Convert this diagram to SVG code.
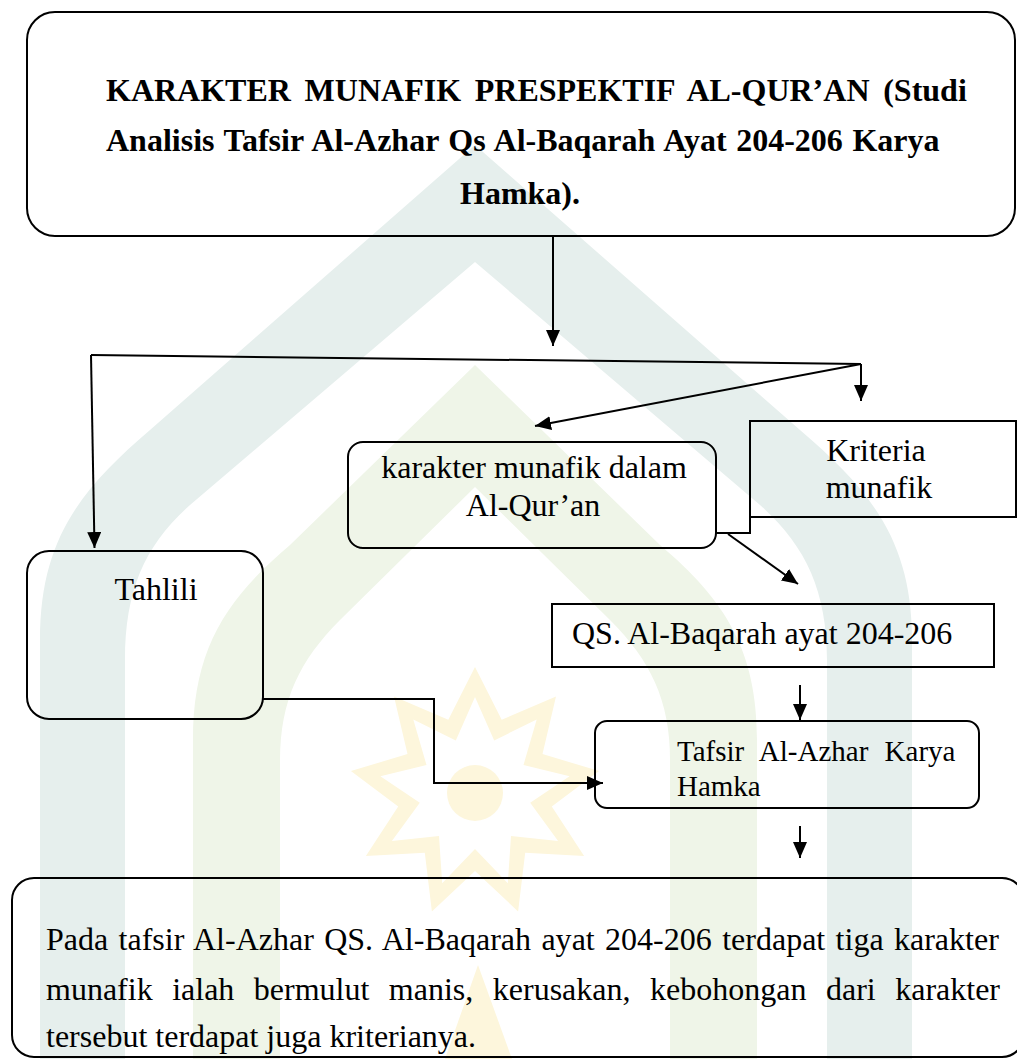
<svg xmlns="http://www.w3.org/2000/svg" width="1017" height="1059" viewBox="0 0 1017 1059">
  <defs>
    <marker id="ah" markerUnits="userSpaceOnUse" markerWidth="16" markerHeight="14" refX="16" refY="7" orient="auto">
      <path d="M0,0 L16,7 L0,14 Z" fill="#000"/>
    </marker>
    <style>
      .box { fill: none; stroke: #000; stroke-width: 2; }
      .con { fill: none; stroke: #000; stroke-width: 2; }
      .arr { marker-end: url(#ah); }
      .t { font-family: "Liberation Serif", "Times New Roman", serif; fill: #000; }
      .title { font-size: 32px; font-weight: bold; }
      .body { font-size: 32px; }
      .small { font-size: 29px; }
    </style>
  </defs>
  <rect x="0" y="0" width="1017" height="1059" fill="#fff"/>
  <g id="watermark">
    <path fill="#e6efed" d="M40 1059 L40 640 C40 540 80 490 150 430 L475 145 L800 430 C870 490 912 540 912 640 L912 1059 L827 1059 L827 660 C827 590 805 545 760 505 L475 262 L190 505 C145 545 125 590 125 660 L125 1059 Z"/>
    <path fill="#eff5e8" d="M193 1059 L193 740 C193 650 225 600 290 545 L475 365 L660 545 C725 600 757 650 757 740 L757 1059 L670 1059 L670 760 C670 700 650 660 610 620 L475 487 L340 620 C300 660 280 700 280 760 L280 1059 Z"/>
    <polygon fill="#fdf6dc" points="475,667 501.7,719.7 556,696.5 542.5,754 599.1,771.1 551.8,806.6 584.1,856 525.2,852.7 518.1,911.4 475,871 431.9,911.4 424.8,852.7 365.9,856 398.2,806.6 350.9,771.1 407.5,754 394,696.5 448.3,719.7"/>
    <polygon fill="#fff" points="475,697 494.2,740.4 536.7,719.5 523.5,765 569.6,776.3 530.2,802.7 558.1,841 511,835.9 507.8,883.2 475,849 442.2,883.2 439,835.9 391.9,841 419.8,802.7 380.4,776.3 426.5,765 413.3,719.5 455.8,740.4"/>
    <circle cx="475" cy="793" r="28" fill="#fdf6dc"/>
    <polygon fill="#fdf6dc" points="478,965 445,1059 512,1059"/>
  </g>
  <g id="connectors">
    <path class="con arr" d="M553 236 L553 346"/>
    <path class="con" d="M91 355 L861 364"/>
    <path class="con arr" d="M91 355 L94.5 548"/>
    <path class="con arr" d="M861 364 L861 401"/>
    <path class="con arr" d="M861 364 L535 426"/>
    <path class="con" d="M782 517 L750 517 L750 533 L716 533"/>
    <path class="con arr" d="M728 534 L798 584"/>
    <path class="con arr" d="M800 685 L800 720"/>
    <path class="con arr" d="M263 699 L434 699 L434 783 L603 783"/>
    <path class="con arr" d="M800 826 L800 858"/>
  </g>
  <g id="node-title">
    <rect class="box" x="27" y="12" width="988" height="224" rx="28"/>
    <text class="t title" x="106" y="101" word-spacing="5.7">KARAKTER MUNAFIK PRESPEKTIF AL-QUR’AN (Studi</text>
    <text class="t title" x="106" y="151" word-spacing="1.6">Analisis Tafsir Al-Azhar Qs Al-Baqarah Ayat 204-206 Karya</text>
    <text class="t title" x="460" y="204">Hamka).</text>
  </g>
  <g id="node-karakter">
    <rect class="box" x="348" y="442" width="368" height="106" rx="15"/>
    <text class="t body" x="534" y="478" text-anchor="middle">karakter munafik dalam</text>
    <text class="t body" x="533" y="516" text-anchor="middle">Al-Qur’an</text>
  </g>
  <g id="node-kriteria">
    <rect class="box" x="750" y="421" width="266" height="96"/>
    <text class="t body" x="876" y="461" text-anchor="middle">Kriteria</text>
    <text class="t body" x="879" y="498" text-anchor="middle">munafik</text>
  </g>
  <g id="node-tahlili">
    <rect class="box" x="27" y="551" width="236" height="168" rx="22"/>
    <text class="t body" x="156" y="600" text-anchor="middle">Tahlili</text>
  </g>
  <g id="node-qs">
    <rect class="box" x="552" y="604" width="442" height="63"/>
    <text class="t body" x="572" y="644">QS. Al-Baqarah ayat 204-206</text>
  </g>
  <g id="node-tafsir">
    <rect class="box" x="595" y="721" width="384" height="87" rx="12"/>
    <text class="t small" x="677" y="761" word-spacing="9">Tafsir Al-Azhar Karya</text>
    <text class="t small" x="677" y="796">Hamka</text>
  </g>
  <g id="node-kesimpulan">
    <rect class="box" x="12" y="878" width="1012" height="179" rx="22"/>
    <text class="t body" x="46" y="950" word-spacing="2.4">Pada tafsir Al-Azhar QS. Al-Baqarah ayat 204-206 terdapat tiga karakter</text>
    <text class="t body" x="46" y="1000" word-spacing="11.5">munafik ialah bermulut manis, kerusakan, kebohongan dari karakter</text>
    <text class="t body" x="46" y="1047">tersebut terdapat juga kriterianya.</text>
  </g>
</svg>
